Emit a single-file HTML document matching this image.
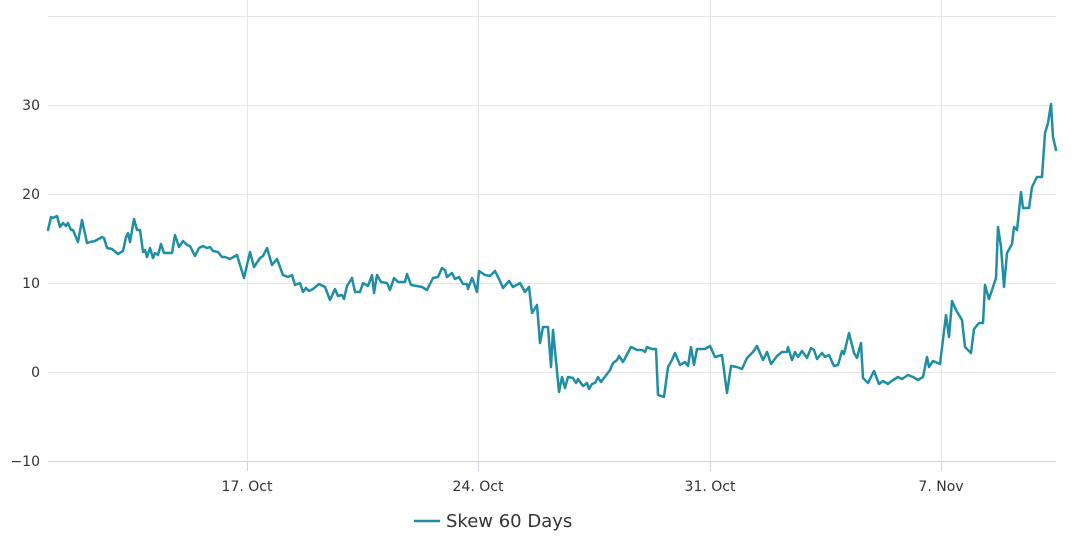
<!DOCTYPE html>
<html><head><style>body{margin:0;background:#fff}svg{display:block;font-family:"DejaVu Sans",sans-serif}</style></head>
<body>
<svg width="1074" height="548" viewBox="0 0 1074 548">
<g stroke="#e6e6e6" stroke-width="1">
<line x1="48" x2="1056" y1="16.5" y2="16.5"/><line x1="48" x2="1056" y1="105.5" y2="105.5"/><line x1="48" x2="1056" y1="194.5" y2="194.5"/><line x1="48" x2="1056" y1="283.5" y2="283.5"/><line x1="48" x2="1056" y1="372.5" y2="372.5"/>
<line x1="247.5" x2="247.5" y1="0" y2="461"/><line x1="478.5" x2="478.5" y1="0" y2="461"/><line x1="710.5" x2="710.5" y1="0" y2="461"/><line x1="941.5" x2="941.5" y1="0" y2="461"/>
</g>
<g stroke="#ccd6eb" stroke-width="1">
<line x1="48" x2="1056" y1="461.5" y2="461.5"/>
<line x1="247.5" x2="247.5" y1="461" y2="471"/><line x1="478.5" x2="478.5" y1="461" y2="471"/><line x1="710.5" x2="710.5" y1="461" y2="471"/><line x1="941.5" x2="941.5" y1="461" y2="471"/>
</g>
<g fill="#333" font-size="14" text-anchor="end">
<text x="40" y="110">30</text><text x="40" y="199">20</text><text x="40" y="288">10</text><text x="40" y="377">0</text><text x="40" y="466">−10</text>
</g>
<g fill="#333" font-size="14" text-anchor="middle">
<text x="247" y="491">17. Oct</text><text x="478" y="491">24. Oct</text><text x="710" y="491">31. Oct</text><text x="941" y="491">7. Nov</text>
</g>
<polyline fill="none" stroke="#1f8ea3" stroke-width="2.5" stroke-linejoin="round" stroke-linecap="round" points="48,230 51,217 53,218 57,216 60,227 63,223 66,226 68,223 71,230 73,230 78,242 82,220 87,243 90,242 95,241 102,237 104,238 107,248 112,249 118,254 123,251 126,237 128,233 130,242 134,219 137,230 140,230 143,252 145,250 147,257 150,248 153,258 155,253 158,255 161,244 164,253 172,253 175,235 179,247 183,241 187,245 190,246 195,256 199,248 203,246 207,248 210,247 213,251 218,252 222,257 225,257 230,259 237,255 244,278 250,252 254,267 260,258 263,256 267,248 272,265 277,259 283,275 288,277 292,275 295,285 300,283 303,292 306,288 309,291 313,289 319,284 325,287 330,300 335,289 338,296 342,295 344,299 347,286 352,278 355,292 360,292 363,283 368,286 372,275 374,293 377,275 381,282 387,283 390,290 394,278 398,282 405,282 407,274 411,285 417,286 422,287 427,290 433,278 438,277 442,268 445,270 447,277 452,273 455,279 459,277 463,284 467,284 468,289 472,278 474,283 477,292 479,271 485,275 490,276 495,271 500,281 503,288 509,281 513,287 520,283 525,292 529,287 532,313 537,305 540,343 543,327 548,327 551,367 553,330 559,392 562,377 565,388 568,377 573,378 576,383 578,379 583,386 587,383 589,389 592,384 595,383 598,377 601,382 610,370 613,363 617,360 619,356 623,362 631,347 637,350 642,350 645,352 647,347 652,349 656,349 658,395 664,397 668,367 672,360 675,353 680,365 685,362 688,366 691,347 694,365 697,349 705,349 710,346 715,357 722,355 727,393 731,366 737,367 742,369 747,358 753,352 757,346 763,360 767,352 771,364 777,356 782,352 787,352 788,347 792,360 795,352 798,357 802,351 807,358 811,348 814,350 817,359 822,353 825,357 829,355 834,366 838,365 842,351 844,354 849,333 854,353 857,358 861,343 863,378 868,383 874,371 879,384 883,381 888,384 893,380 898,377 902,379 908,375 913,377 918,380 923,377 927,357 929,367 933,361 940,364 946,315 949,337 952,301 956,310 962,320 965,347 971,353 974,329 979,323 983,323 985,285 989,299 993,287 996,278 998,227 1001,247 1004,287 1007,253 1012,244 1014,227 1017,230 1021,192 1023,208 1029,208 1032,187 1037,177 1042,177 1045,133 1048,123 1051,104 1053,137 1056,150"/>
<line x1="414" x2="440" y1="521" y2="521" stroke="#1f8ea3" stroke-width="2.5"/>
<text x="446" y="527" font-size="18" fill="#333">Skew 60 Days</text>
</svg>
</body></html>
